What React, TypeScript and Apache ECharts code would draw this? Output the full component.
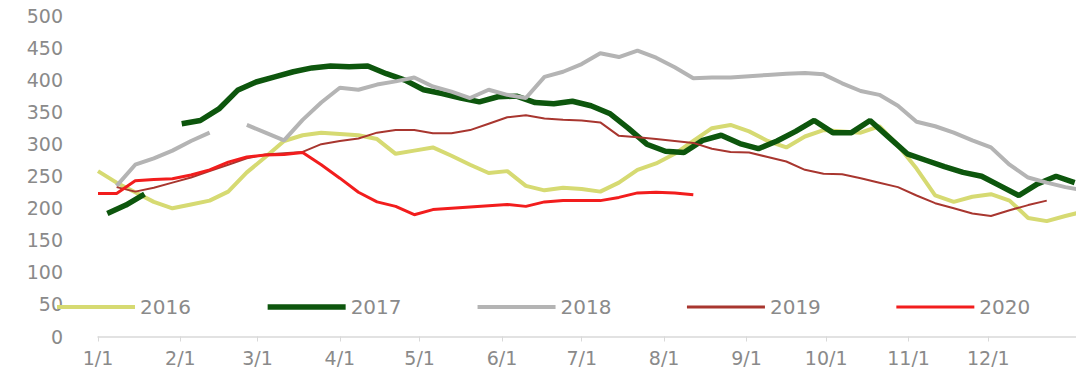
import React, { useEffect, useRef } from "react";
import * as echarts from "echarts";

// ---- data ----
const yearNames = ["2016", "2017", "2018", "2019", "2020"];
const yearColors = ["#d6da72", "#0d560d", "#b4b4b4", "#a8362f", "#f21d1d"];
const yearWidths = [4, 5.5, 4, 2, 3];
// first day (day-of-year) of each weekly series
const startDays = [0, 3.5, 0, 0, 0];

const monthStartDays = [0, 31, 60, 91, 121, 152, 182, 213, 244, 274, 305, 335];
const monthLabels = ["1/1", "2/1", "3/1", "4/1", "5/1", "6/1", "7/1", "8/1", "9/1", "10/1", "11/1", "12/1"];

const y2016 = [258, 240, 225, 210, 200, 206, 212, 226, 256, 280, 305, 314, 318, 316, 314, 308, 285, 290, 295, 282,
  268, 255, 258, 235, 228, 232, 230, 226, 240, 260, 270, 285, 305, 325, 330, 320, 305, 295, 312, 322,
  320, 318, 328, 298, 262, 220, 210, 218, 222, 212, 185, 180, 188, 195];
const y2017 = [192, 205, 222, null, 332, 337, 355, 384, 397, 405, 413, 419, 422, 421, 422, 410, 400, 385, 379, 372,
  366, 374, 375, 365, 363, 367, 360, 348, 325, 300, 289, 287, 306, 314, 301, 293, 305, 320, 337, 318,
  318, 337, 311, 285, 275, 265, 256, 250, 235, 220, 238, 250, 240];
const y2018 = [null, 235, 268, 278, 290, 305, 318, null, 330, 318, 306, 338, 365, 388, 385, 393, 398, 404, 390, 382,
  372, 385, 377, 372, 405, 413, 425, 442, 436, 446, 435, 420, 403, 404, 404, 406, 408, 410, 411, 409,
  395, 383, 377, 360, 335, 328, 318, 306, 295, 268, 248, 240, 233, 228];
const y2019 = [null, 233, 226, 232, 240, 248, 258, 268, 278, 284, 286, 288, 300, 305, 309, 318, 322, 322, 317, 317,
  322, 332, 342, 345, 340, 338, 337, 334, 313, 311, 308, 305, 302, 293, 288, 287, 280, 273, 260, 254,
  253, 247, 240, 233, 220, 208, 200, 192, 188, 197, 205, 212];
const y2020 = [223, 223, 243, 245, 246, 252, 260, 272, 280, 283, 284, 287, 268, 247, 225, 210, 203, 190, 198, 200,
  202, 204, 206, 203, 210, 212, 212, 212, 217, 224, 225, 224, 221];

const yearValues = [y2016, y2017, y2018, y2019, y2020];

const toPoints = (values: (number | null)[], startDay: number) =>
  values.map((v, i) => [startDay + 7 * i, v === null ? null : v]);

const FONT = "'DejaVu Sans', Verdana, sans-serif";
const GREY = "#8a8a8a";

export default function App() {
  const ref = useRef<HTMLDivElement>(null);
  useEffect(() => {
    if (!ref.current) return;
    const chart = echarts.init(ref.current, undefined, { renderer: "svg" });
    chart.setOption({
      animation: false,
      backgroundColor: "#ffffff",
      grid: { left: 98, right: 0, top: 16, bottom: 43.5, containLabel: false },
      legend: {
        left: 50,
        top: 292,
        itemWidth: 78,
        itemHeight: 4,
        itemGap: 74,
        itemStyle: { opacity: 0 },
        textStyle: { color: GREY, fontSize: 20, fontFamily: FONT },
        data: yearNames.map((name, i) => ({
          name,
          lineStyle: { color: yearColors[i], width: Math.max(yearWidths[i], 3) },
          itemStyle: { opacity: 0 },
        })),
      },
      xAxis: {
        type: "value",
        min: 0,
        max: 368,
        splitLine: { show: false },
        axisLine: { show: true, lineStyle: { color: "#d9d9d9", width: 1.5 } },
        axisTick: {
          show: true,
          customValues: monthStartDays,
          length: 5,
          lineStyle: { color: "#d9d9d9" },
        },
        axisLabel: {
          customValues: monthStartDays,
          color: GREY,
          fontSize: 19,
          fontFamily: FONT,
          margin: 12,
          formatter: (v: number) => monthLabels[monthStartDays.indexOf(v)] ?? "",
        },
      },
      yAxis: {
        type: "value",
        min: 0,
        max: 500,
        interval: 50,
        splitLine: { show: false },
        axisLine: { show: false },
        axisTick: { show: false },
        axisLabel: { color: GREY, fontSize: 19, fontFamily: FONT, margin: 35 },
      },
      series: yearNames.map((name, i) => ({
        name,
        type: "line",
        data: toPoints(yearValues[i], startDays[i]),
        showSymbol: false,
        symbol: "circle",
        symbolSize: 2,
        connectNulls: false,
        color: yearColors[i],
        lineStyle: { color: yearColors[i], width: yearWidths[i] },
        itemStyle: { color: yearColors[i] },
        emphasis: { disabled: true },
      })),
    });
    return () => chart.dispose();
  }, []);
  return (
    <div
      ref={ref}
      style={{ position: "absolute", left: 0, top: 0, width: 1076, height: 380 }}
    />
  );
}
